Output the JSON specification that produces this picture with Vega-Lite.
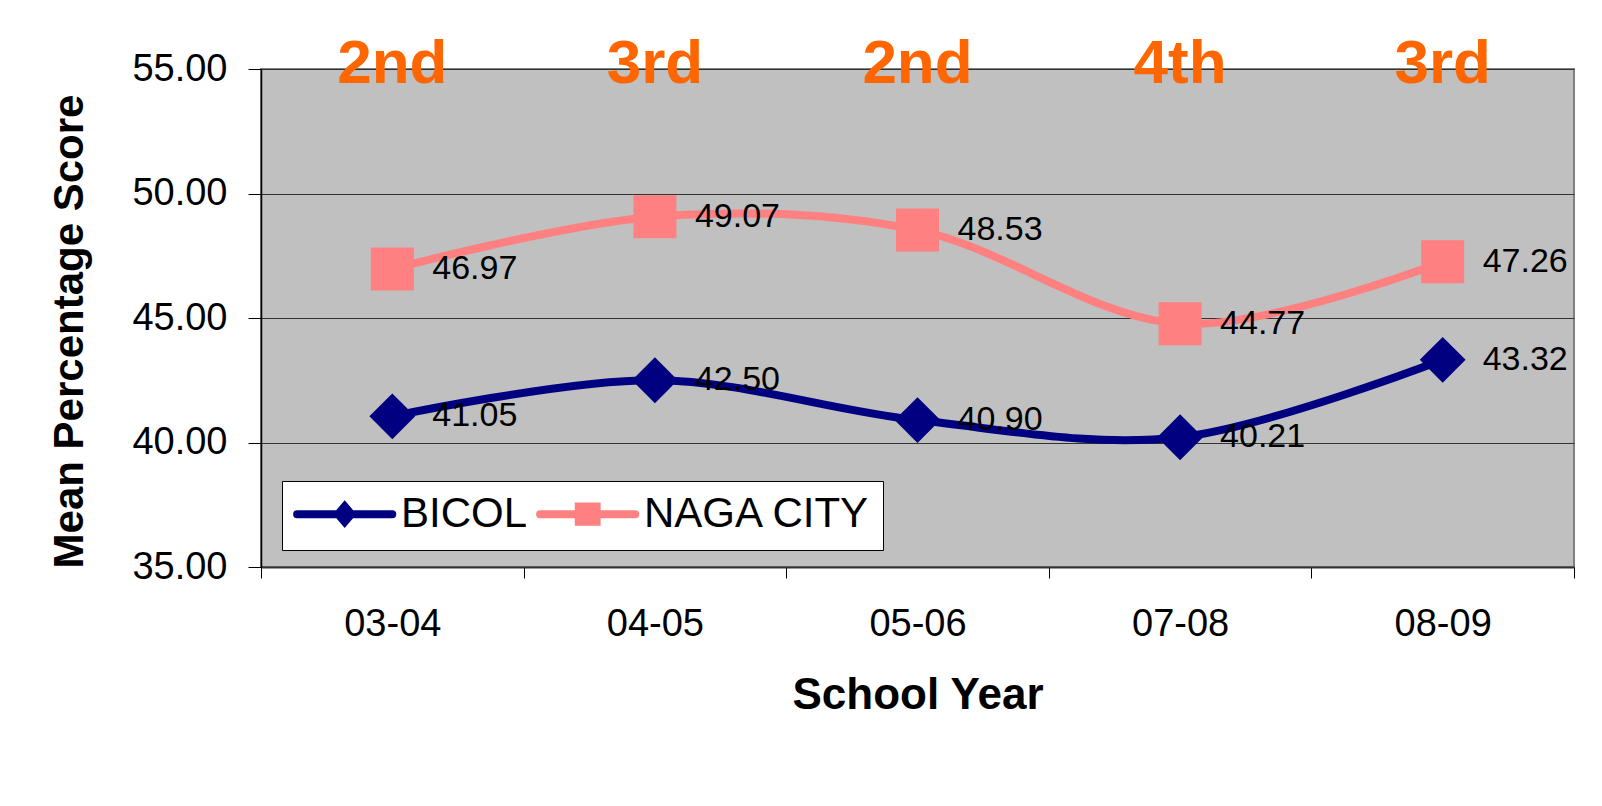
{
  "$schema": "https://vega.github.io/schema/vega-lite/v6.json",
  "width": 1313,
  "height": 498,
  "autosize": {"type": "none"},
  "padding": {"left": 261, "top": 69, "right": 28, "bottom": 239},
  "background": "white",
  "config": {
    "font": "Liberation Sans",
    "view": {"fill": "#C0C0C0", "stroke": "#808080", "strokeWidth": 2}
  },
  "datasets": {
    "scores": [
      {"year": "03-04", "series": "BICOL", "score": 41.05},
      {"year": "04-05", "series": "BICOL", "score": 42.50},
      {"year": "05-06", "series": "BICOL", "score": 40.90},
      {"year": "07-08", "series": "BICOL", "score": 40.21},
      {"year": "08-09", "series": "BICOL", "score": 43.32},
      {"year": "03-04", "series": "NAGA CITY", "score": 46.97},
      {"year": "04-05", "series": "NAGA CITY", "score": 49.07},
      {"year": "05-06", "series": "NAGA CITY", "score": 48.53},
      {"year": "07-08", "series": "NAGA CITY", "score": 44.77},
      {"year": "08-09", "series": "NAGA CITY", "score": 47.26}
    ],
    "ranks": [
      {"year": "03-04", "rank": "2nd"},
      {"year": "04-05", "rank": "3rd"},
      {"year": "05-06", "rank": "2nd"},
      {"year": "07-08", "rank": "4th"},
      {"year": "08-09", "rank": "3rd"}
    ]
  },
  "encoding": {
    "x": {
      "field": "year",
      "type": "nominal",
      "sort": null,
      "scale": {"type": "band", "paddingInner": 0, "paddingOuter": 0},
      "axis": {
        "title": "School Year",
        "titleFontSize": 44,
        "titleFontWeight": "bold",
        "titleColor": "black",
        "titlePadding": 30,
        "labelAngle": 0,
        "labelFontSize": 38,
        "labelColor": "black",
        "labelPadding": 27,
        "tickSize": 11,
        "tickColor": "black",
        "tickBand": "extent",
        "domainColor": "#333333",
        "domainWidth": 2,
        "grid": false
      }
    }
  },
  "layer": [
    {
      "data": {"name": "scores"},
      "mark": {"type": "line", "interpolate": "cardinal", "strokeWidth": 8},
      "encoding": {
        "y": {
          "field": "score",
          "type": "quantitative",
          "scale": {"domain": [35, 55], "nice": false, "zero": false},
          "axis": {
            "title": "Mean Percentage Score",
            "titleFontSize": 42,
            "titleFontWeight": "bold",
            "titleColor": "black",
            "titlePadding": 40,
            "titleY": 262,
            "values": [35, 40, 45, 50, 55],
            "format": ".2f",
            "labelFontSize": 38,
            "labelColor": "black",
            "labelPadding": 21,
            "tickSize": 13,
            "tickColor": "black",
            "domainColor": "black",
            "domainWidth": 1.5,
            "grid": true,
            "gridColor": "#333333",
            "gridWidth": 1
          }
        },
        "color": {
          "field": "series",
          "type": "nominal",
          "scale": {"domain": ["BICOL", "NAGA CITY"], "range": ["#000080", "#FF8080"]},
          "legend": {
            "orient": "none",
            "legendX": 21,
            "legendY": 412,
            "direction": "horizontal",
            "title": null,
            "fillColor": "white",
            "strokeColor": "black",
            "padding": 12,
            "labelFontSize": 42,
            "labelColor": "black",
            "labelLimit": 0,
            "symbolSize": 566,
            "symbolStrokeWidth": 8,
            "symbolOffset": -6,
            "labelOffset": 71,
            "columnPadding": -4,
            "encode": {
              "symbols": {
                "update": {
                  "shape": {"signal": "datum.value === 'BICOL' ? 'M-1,0L7,0M3,-0.65L3.55,0L3,0.65L2.45,0Z' : 'M-1,0L7,0M2.25,-0.65L3.75,-0.65L3.75,0.65L2.25,0.65Z'"},
                  "fill": {"signal": "datum.value === 'BICOL' ? '#000080' : '#FF8080'"},
                  "stroke": {"signal": "datum.value === 'BICOL' ? '#000080' : '#FF8080'"},
                  "strokeWidth": {"value": 8},
                  "strokeCap": {"value": "round"},
                  "opacity": {"value": 1},
                  "size": {"value": 566}
                }
              }
            }
          }
        }
      }
    },
    {
      "data": {"name": "scores"},
      "transform": [{"filter": {"field": "series", "equal": "BICOL"}}],
      "mark": {"type": "point", "shape": "diamond", "filled": true, "opacity": 1, "size": 2100, "color": "#000080"},
      "encoding": {
        "y": {"field": "score", "type": "quantitative"}
      }
    },
    {
      "data": {"name": "scores"},
      "transform": [{"filter": {"field": "series", "equal": "NAGA CITY"}}],
      "mark": {"type": "point", "shape": "square", "filled": true, "opacity": 1, "size": 1850, "color": "#FF8080"},
      "encoding": {
        "y": {"field": "score", "type": "quantitative"}
      }
    },
    {
      "data": {"name": "scores"},
      "mark": {"type": "text", "align": "left", "baseline": "middle", "dx": 40, "fontSize": 34, "color": "black"},
      "encoding": {
        "y": {"field": "score", "type": "quantitative"},
        "text": {"field": "score", "type": "quantitative", "format": ".2f"}
      }
    },
    {
      "data": {"name": "ranks"},
      "mark": {"type": "text", "align": "center", "baseline": "alphabetic", "dy": 14, "fontSize": 62, "fontWeight": "bold", "color": "#FF6600"},
      "encoding": {
        "y": {"datum": 55},
        "text": {"field": "rank", "type": "nominal"}
      }
    }
  ]
}
